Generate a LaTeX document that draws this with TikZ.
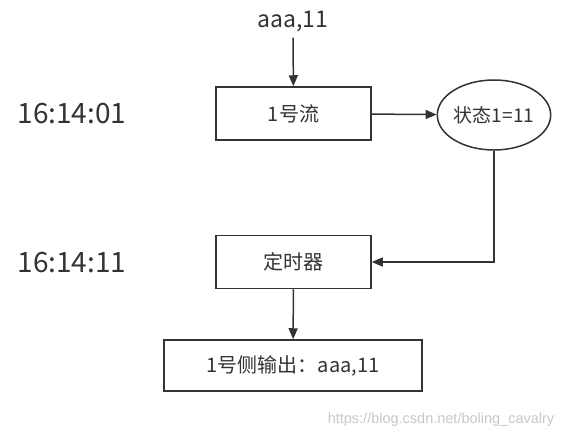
\documentclass[tikz,border=0pt]{standalone}
\usepackage{fontspec}
\setmainfont{Noto Sans CJK SC}
\newfontfamily\webfont{Liberation Sans}
\usetikzlibrary{arrows.meta,shapes.geometric}
\definecolor{ink}{HTML}{333333}
\begin{document}
\begin{tikzpicture}[x=1pt,y=-1pt,
    box/.style={draw=ink,line width=1.5pt,minimum width=155pt,minimum height=53pt,
      text=ink,font=\fontsize{20}{24}\selectfont},
    link/.style={draw=ink,line width=1.5pt,-{Triangle[length=11pt,width=9pt]}},
    stamp/.style={text=ink,font=\fontsize{28}{32}\selectfont}]
\useasboundingbox (0,0) rectangle (575,438);
\node (in) [text=ink,font=\fontsize{23}{26}\selectfont,inner sep=1pt] at (293,21) {aaa,11};
\node (flow) [box] at (293.5,113.5) {1号流};
\node (state) [ellipse,draw=ink,line width=1.5pt,minimum width=109pt,minimum height=70pt,
    inner sep=0pt,text=ink,font=\fontsize{19}{22}\selectfont] at (494,115) {状态1=11};
\node (timer) [box] at (293.5,262) {定时器};
\node (out) [box,minimum width=258pt,minimum height=51pt] at (293,365.5) {1号侧输出：aaa,11};
\node (t1) [stamp] at (72,114) {16:14:01};
\node (t2) [stamp] at (72,263) {16:14:11};
\node (mark) [text=black!22,font=\webfont\fontsize{14.5}{16}\selectfont] at (441,420)
    {https://blog.csdn.net/boling\_cavalry};
\draw[link,shorten <=5pt] (in) -- (flow);
\draw[link] (flow) -- (state);
\draw[link] (state) |- (timer);
\draw[link] (timer) -- (out);
\end{tikzpicture}
\end{document}
